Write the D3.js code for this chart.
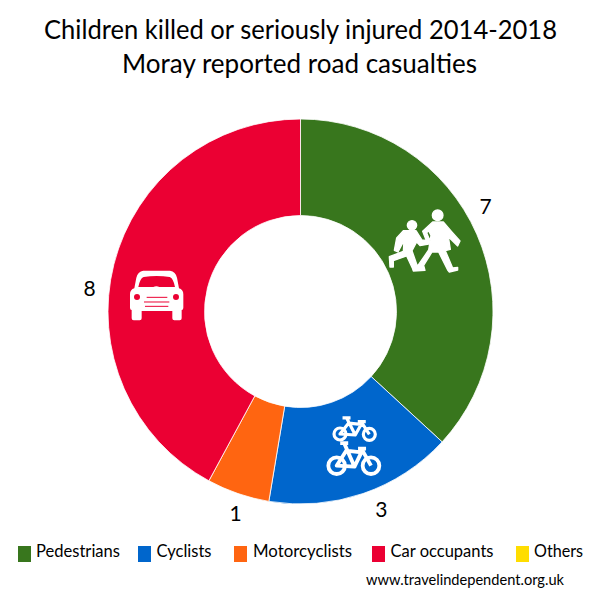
<!DOCTYPE html>
<html><head><meta charset="utf-8">
<script src="https://cdn.jsdelivr.net/npm/d3@7"></script>
<style>html,body{margin:0;padding:0;background:#fff}svg{display:block}text{font-family:Lato,"Open Sans",sans-serif;fill:#000}</style>
</head><body><svg id="c" width="600" height="600"></svg>
<script>
const categories = ["Pedestrians","Cyclists","Motorcyclists","Car occupants","Others"];
const values = [7,3,1,8,0];
const colors = ["#38761d","#0066cc","#ff6511","#eb0033","#ffdd00"];
const titleLines = ["Children killed or seriously injured 2014-2018","Moray reported road casualties"];
const credit = "www.travelindependent.org.uk";

const svg = d3.select("#c");
const cx = 300.5, cy = 311.5, R = 192.5, r0 = 96;
const pie = d3.pie().sort(null).value(d=>d)(values);
const arc = d3.arc().innerRadius(r0).outerRadius(R);
const g = svg.append("g").attr("transform",`translate(${cx},${cy})`);
g.selectAll("path").data(pie.filter(d=>d.value>0)).join("path")
 .attr("d",arc).attr("fill",d=>colors[d.index]).attr("stroke","#fff").attr("stroke-width",0.8);

// value labels, placed relative to the slice centroid
const nudge = [[53,-47],[34,62],[-18,66],[-71,13]];
g.selectAll("text.v").data(pie.filter(d=>d.value>0)).join("text").attr("class","v")
 .attr("text-anchor","middle").attr("font-size",21)
 .attr("x",d=>arc.centroid(d)[0]+nudge[d.index][0])
 .attr("y",d=>arc.centroid(d)[1]+nudge[d.index][1]+7)
 .text(d=>d.value);

// title
const tl=[[44,557,39],[122,477,73]];
svg.selectAll("text.t").data(titleLines).join("text").attr("class","t")
 .attr("x",(d,i)=>tl[i][0]).attr("y",(d,i)=>tl[i][2]).attr("font-size",27.5)
 .attr("textLength",(d,i)=>tl[i][1]-tl[i][0]).attr("lengthAdjust","spacingAndGlyphs").text(d=>d);

// legend
const lx=[18,138,234,372,516], tx=[36,156.5,253,390.5,534], tw=[84,55,99,103,49];
const lg=svg.selectAll("g.l").data(categories).join("g").attr("class","l");
lg.append("rect").attr("x",(d,i)=>lx[i]).attr("y",546).attr("width",13).attr("height",16).attr("fill",(d,i)=>colors[i]);
lg.append("text").attr("x",(d,i)=>tx[i]).attr("y",557).attr("font-size",17)
 .attr("textLength",(d,i)=>tw[i]).attr("lengthAdjust","spacingAndGlyphs").text(d=>d);
svg.append("text").attr("x",366).attr("y",585).attr("font-size",15)
 .attr("textLength",198).attr("lengthAdjust","spacingAndGlyphs").text(credit);

// pictograms
const ped=svg.append("g").attr("transform","translate(370,190) scale(0.3333)").attr("fill","#fff").attr("stroke","#fff").attr("stroke-width",4).attr("stroke-linejoin","round");
ped.append("circle").attr("cx",203).attr("cy",76).attr("r",16);
ped.append("circle").attr("cx",126).attr("cy",106).attr("r",14);
ped.append("path").attr("d","M188,96 L220,96 L245,125 L270,153 L263,168 L235,140 L241,178 L226,182 L248,234 L263,232 L263,240 L238,246 L233,240 L206,186 L186,186 L161,226 L165,241 L130,243 L128,230 L145,225 L176,180 L183,136 L176,122 L170,128 L180,152 L172,160 L158,124 Z");
ped.append("path").attr("d","M100,122 L138,122 L156,150 L175,152 L176,162 L150,167 L140,156 L126,182 L146,240 L130,241 L110,198 L70,212 L70,231 L60,231 L58,200 L100,184 L102,152 L84,186 L73,181 L80,144 Z");

const bike=svg.append("g").attr("transform","translate(310,400) scale(0.3333)").attr("fill","none").attr("stroke","#fff");
function drawBike(c){
  const [x1,y1,x2,y2,wr,sw]=c, w=x2-x1;
  const gg=bike.append("g").attr("stroke-width",sw);
  gg.append("circle").attr("cx",x1).attr("cy",y1).attr("r",wr);
  gg.append("circle").attr("cx",x2).attr("cy",y2).attr("r",wr);
  const sx=x1+w*.2, sy=y1-wr*2.7, tx2=x1+w*.72, by=x1+w*.52;
  gg.append("path").attr("stroke-linejoin","round").attr("d",
   `M${sx-10},${sy} H${sx+14} M${sx+2},${sy} L${by},${y1+3} L${x1},${y1} L${sx+8},${sy+wr*.9} L${tx2},${sy+wr*1.1} L${by},${y1+3} M${tx2-10},${sy+wr*.65} H${tx2+14} M${tx2},${sy+wr*.65} L${x2},${y2}`);
}
drawBike([90,102,178,103,18,9.5]);
drawBike([80,197,183,197,25,11.5]);

const car=svg.append("g").attr("transform","translate(115,255) scale(0.3333)");
car.append("path").attr("fill","#fff").attr("fill-rule","evenodd").attr("d",
 "M85,47 H165 Q182,50 186,68 L192,100 Q205,104 205,118 V158 Q205,165 200,165 V190 Q200,196 194,196 H178 Q172,196 172,190 V168 H80 V190 Q80,196 74,196 H56 Q50,196 50,190 V165 Q45,165 45,158 V118 Q45,104 58,100 L64,68 Q68,50 85,47 Z M86,66 Q75,70 70,96 H115 Q124,92 133,96 H180 Q175,70 164,66 Q125,60 86,66 Z");
car.append("circle").attr("cx",66).attr("cy",126).attr("r",9).attr("fill","#eb0033");
car.append("circle").attr("cx",183).attr("cy",126).attr("r",9).attr("fill","#eb0033");
[[95,157,127],[87,163,141],[90,160,154]].forEach(l=>car.append("line").attr("x1",l[0]).attr("x2",l[1]).attr("y1",l[2]).attr("y2",l[2]).attr("stroke","#eb0033").attr("stroke-width",3));
</script></body></html>
